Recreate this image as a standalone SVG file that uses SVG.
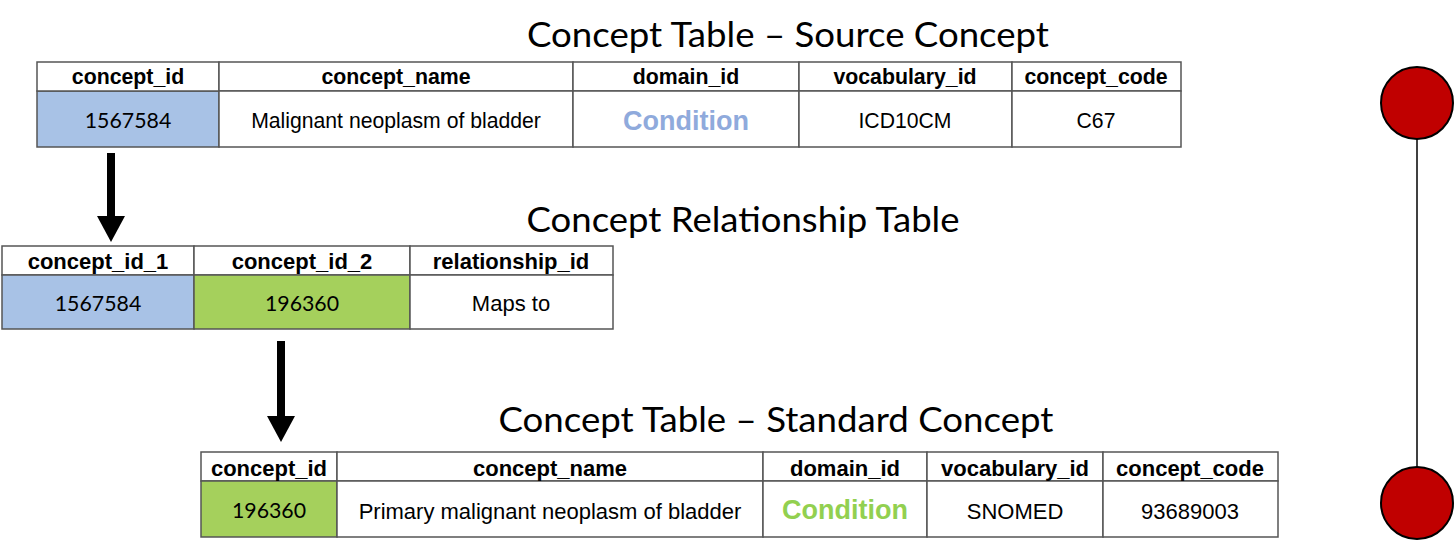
<svg xmlns="http://www.w3.org/2000/svg" width="1454" height="542" viewBox="0 0 1454 542">
<style>
.title{font-family:Lato,"Open Sans",sans-serif;font-size:34px;fill:#000;text-anchor:middle}
.hd{font-family:"Liberation Sans",Arial,sans-serif;font-weight:bold;font-size:21.3px;fill:#000;text-anchor:middle}
.tx{font-family:"Liberation Sans",Arial,sans-serif;font-size:21.2px;fill:#000;text-anchor:middle}
.hd2{font-family:"Liberation Sans",Arial,sans-serif;font-weight:bold;font-size:22px;fill:#000;text-anchor:middle}
.tx2{font-family:"Liberation Sans",Arial,sans-serif;font-size:22px;fill:#000;text-anchor:middle}
.num{font-family:Lato,"Liberation Sans",sans-serif;font-size:21.3px;fill:#000;text-anchor:middle}
.cond{font-family:"Liberation Sans",Arial,sans-serif;font-weight:bold;font-size:27px;text-anchor:middle}
.cell{fill:#fff;stroke:#555;stroke-width:1.5}
.blue{fill:#A8C2E6}
.green{fill:#A5D05C}
.arrow{stroke:#000;stroke-width:8;fill:none}
.dot{fill:#C00000;stroke:#000;stroke-width:2}
</style>
<defs>
<marker id="ah" markerUnits="userSpaceOnUse" markerWidth="28" markerHeight="28" viewBox="0 0 28 28" refX="0" refY="14" orient="auto">
<path d="M0,0 L26,14 L0,28 Z" fill="#000"/>
</marker>
</defs>

<g id="source-table">
<text class="title" x="788" y="47" textLength="522" lengthAdjust="spacingAndGlyphs">Concept Table – Source Concept</text>
<rect class="cell blue" x="37" y="91" width="182" height="56"/>
<rect class="cell" x="37" y="62" width="182" height="29"/>
<rect class="cell" x="219" y="62" width="354" height="29"/>
<rect class="cell" x="219" y="91" width="354" height="56"/>
<rect class="cell" x="573" y="62" width="226" height="29"/>
<rect class="cell" x="573" y="91" width="226" height="56"/>
<rect class="cell" x="799" y="62" width="213" height="29"/>
<rect class="cell" x="799" y="91" width="213" height="56"/>
<rect class="cell" x="1012" y="62" width="169" height="29"/>
<rect class="cell" x="1012" y="91" width="169" height="56"/>
<text class="hd" x="128" y="84">concept_id</text>
<text class="hd" x="396" y="84">concept_name</text>
<text class="hd" x="686" y="84">domain_id</text>
<text class="hd" x="905" y="84">vocabulary_id</text>
<text class="hd" x="1096" y="84">concept_code</text>
<text class="num" x="128" y="128">1567584</text>
<text class="tx" x="396" y="128">Malignant neoplasm of bladder</text>
<text class="cond" x="686" y="130" fill="#8FAADC">Condition</text>
<text class="tx" x="905" y="128">ICD10CM</text>
<text class="tx" x="1096" y="128">C67</text>
</g>

<g id="relationship-table">
<text class="title" x="743" y="232" textLength="433" lengthAdjust="spacingAndGlyphs">Concept Relationship Table</text>
<rect class="cell" x="2" y="246" width="192" height="29"/>
<rect class="cell blue" x="2" y="275" width="192" height="54"/>
<rect class="cell" x="194" y="246" width="216" height="29"/>
<rect class="cell green" x="194" y="275" width="216" height="54"/>
<rect class="cell" x="410" y="246" width="203" height="29"/>
<rect class="cell" x="410" y="275" width="203" height="54"/>
<text class="hd2" x="98" y="269">concept_id_1</text>
<text class="hd2" x="302" y="269">concept_id_2</text>
<text class="hd2" x="511" y="269">relationship_id</text>
<text class="num" x="98" y="311">1567584</text>
<text class="num" x="302" y="311">196360</text>
<text class="tx2" x="511" y="311">Maps to</text>
</g>

<g id="standard-table">
<text class="title" x="776" y="432" textLength="555" lengthAdjust="spacingAndGlyphs">Concept Table – Standard Concept</text>
<rect class="cell" x="201" y="452" width="136" height="29"/>
<rect class="cell green" x="201" y="481" width="136" height="56"/>
<rect class="cell" x="337" y="452" width="426" height="29"/>
<rect class="cell" x="337" y="481" width="426" height="56"/>
<rect class="cell" x="763" y="452" width="164" height="29"/>
<rect class="cell" x="763" y="481" width="164" height="56"/>
<rect class="cell" x="927" y="452" width="176" height="29"/>
<rect class="cell" x="927" y="481" width="176" height="56"/>
<rect class="cell" x="1103" y="452" width="175" height="29"/>
<rect class="cell" x="1103" y="481" width="175" height="56"/>
<text class="hd2" x="269" y="476">concept_id</text>
<text class="hd2" x="550" y="476">concept_name</text>
<text class="hd2" x="845" y="476">domain_id</text>
<text class="hd2" x="1015" y="476">vocabulary_id</text>
<text class="hd2" x="1190" y="476">concept_code</text>
<text class="num" x="269" y="518">196360</text>
<text class="tx2" x="550" y="519">Primary malignant neoplasm of bladder</text>
<text class="cond" x="845" y="519" fill="#92D050">Condition</text>
<text class="tx2" x="1015" y="519">SNOMED</text>
<text class="tx2" x="1190" y="519">93689003</text>
</g>

<g id="connectors">
<line class="arrow" x1="111" y1="153" x2="111" y2="216" marker-end="url(#ah)"/>
<line class="arrow" x1="281" y1="341" x2="281" y2="416" marker-end="url(#ah)"/>
<line x1="1417" y1="139" x2="1417" y2="467" stroke="#000" stroke-width="1.5"/>
</g>

<g id="dot-top"><circle class="dot" cx="1417" cy="103" r="36"/></g>
<g id="dot-bottom"><circle class="dot" cx="1417" cy="503" r="36"/></g>
</svg>
